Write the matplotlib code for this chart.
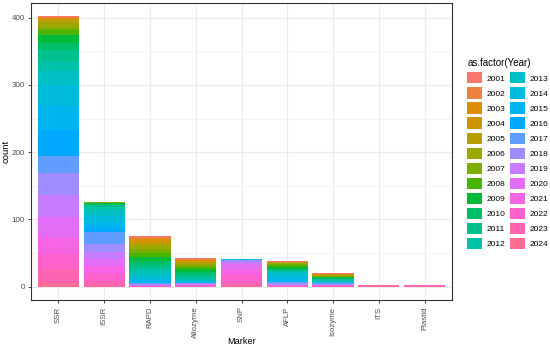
import numpy as np
import matplotlib
matplotlib.use("Agg")
import matplotlib.pyplot as plt
from matplotlib.patches import Patch

plt.rcParams['font.family'] = ['Liberation Sans', 'DejaVu Sans']

# -----------------------------
# Data (counts per year, 2001..2024)
# -----------------------------
years = list(range(2001, 2025))
markers = ["SSR", "ISSR", "RAPD", "Allozyme", "SNP", "AFLP", "Isozyme", "ITS", "Plastid"]

#            01 02 03 04 05 06 07 08 09 10 11 12 13 14 15 16 17 18 19 20 21 22 23 24
ssr      = [1, 1, 2, 2, 4, 6, 5, 7, 12, 10, 17, 15, 20, 32, 35, 38, 26, 32, 34, 29, 25, 22, 21, 6]
issr     = [0, 0, 0, 0, 0, 0, 1, 1, 1, 2, 3, 5, 8, 10, 8, 6, 17, 13, 10, 10, 12, 10, 8, 1]
rapd     = [1, 3, 3, 3, 3, 6, 6, 6, 6, 6, 6, 5, 6, 5, 4, 1, 1, 1, 1, 1, 0, 1, 0, 0]
allozyme = [1, 1, 2, 2, 2, 2, 3, 3, 4, 4, 4, 4, 2, 2, 0, 0, 1, 1, 1, 0, 1, 1, 1, 0]
snp      = [0, 0, 0, 0, 0, 0, 0, 0, 0, 0, 0, 0, 0, 0, 1, 0, 1, 2, 3, 8, 9, 10, 6, 1]
aflp     = [1, 0, 1, 0, 1, 1, 2, 2, 3, 2, 2, 1, 4, 6, 5, 0, 2, 2, 1, 0, 1, 1, 0, 0]
isozyme  = [1, 0, 1, 1, 0, 1, 1, 1, 1, 2, 0, 2, 2, 2, 0, 0, 1, 1, 1, 0, 1, 0, 1, 0]
its      = [0, 0, 0, 0, 0, 0, 0, 0, 0, 0, 0, 0, 0, 0, 0, 0, 0, 0, 0, 0, 0, 0, 1, 1]
plastid  = [0, 0, 0, 0, 0, 0, 0, 0, 0, 0, 0, 0, 0, 0, 0, 0, 0, 0, 0, 0, 0, 1, 0, 1]

counts = np.array([ssr, issr, rapd, allozyme, snp, aflp, isozyme, its, plastid])


# -----------------------------
# ggplot-like hue palette (hcl, c=100, l=65)
# -----------------------------
def hcl_to_hex(h, c=100, l=65):
    Xn, Yn, Zn = 95.047, 100.0, 108.883
    un = 4 * Xn / (Xn + 15 * Yn + 3 * Zn)
    vn = 9 * Yn / (Xn + 15 * Yn + 3 * Zn)
    u = c * np.cos(np.radians(h))
    v = c * np.sin(np.radians(h))
    Y = Yn * ((l + 16) / 116) ** 3
    up = u / (13 * l) + un
    vp = v / (13 * l) + vn
    X = Y * 9 * up / (4 * vp)
    Z = Y * (12 - 3 * up - 20 * vp) / (4 * vp)
    X, Y, Z = X / 100, Y / 100, Z / 100
    r = 3.2404542 * X - 1.5371385 * Y - 0.4985314 * Z
    g = -0.9692660 * X + 1.8760108 * Y + 0.0415560 * Z
    b = 0.0556434 * X - 0.2040259 * Y + 1.0572252 * Z
    out = []
    for ch in (r, g, b):
        ch = 12.92 * ch if ch <= 0.0031308 else 1.055 * ch ** (1 / 2.4) - 0.055
        out.append(min(max(ch, 0), 1))
    return tuple(out)


colores = [hcl_to_hex(15 + 15 * i) for i in range(len(years))]

# -----------------------------
# Figure
# -----------------------------
fig = plt.figure(figsize=(5.5, 3.5), dpi=100)
ax = fig.add_axes([31 / 550, 1 - 300.2 / 350, 421 / 550, 297.4 / 350])

x = np.arange(1, len(markers) + 1)
bottom = np.zeros(len(markers))
# 2024 at the bottom, 2001 on top (ggplot stacking order)
for i in range(len(years) - 1, -1, -1):
    ax.bar(x, counts[:, i], bottom=bottom, width=0.9, color=colores[i],
           linewidth=0, zorder=3)
    bottom += counts[:, i]

ymax = counts.sum(axis=1).max()
ax.set_xlim(0.4, len(markers) + 0.6)
ax.set_ylim(-0.05 * ymax, 1.05 * ymax)

ax.set_yticks([0, 100, 200, 300, 400])
ax.set_yticks([50, 150, 250, 350], minor=True)
ax.set_xticks(x)
ax.set_xticklabels(markers, rotation=90, fontsize=5.6, color="#4d4d4d")
ax.tick_params(axis="y", labelsize=5.8, labelcolor="#4d4d4d")
ax.tick_params(which="major", length=2.5, width=0.6, color="#333333", pad=2)
ax.tick_params(which="minor", length=0)

ax.grid(True, which="major", color="#ebebeb", linewidth=0.8, zorder=0)
ax.grid(True, which="minor", axis="y", color="#ebebeb", linewidth=0.4, zorder=0)
ax.set_axisbelow(True)
for s in ax.spines.values():
    s.set_color("#333333")
    s.set_linewidth(0.8)

ax.set_xlabel("Marker", fontsize=6.6)
ax.set_ylabel("count", fontsize=6.8)
ax.xaxis.set_label_coords(0.5, -(337 - 300.2) / 297.4)
ax.yaxis.set_label_coords((10.5 - 31) / 421, 0.5)

handles = [Patch(facecolor=colores[i], edgecolor="none") for i in range(len(years))]
leg = fig.legend(handles, [str(a) for a in years], ncol=2,
                 loc="upper left", bbox_to_anchor=(464 / 550, 1 - 55 / 350),
                 frameon=False, fontsize=6, title="as.factor(Year)",
                 title_fontsize=7, handlelength=1.7, handleheight=1.7,
                 labelspacing=0.46, columnspacing=0.6, handletextpad=0.6,
                 borderaxespad=0)
leg._legend_box.align = "left"

fig.savefig("out.png", dpi=100)
